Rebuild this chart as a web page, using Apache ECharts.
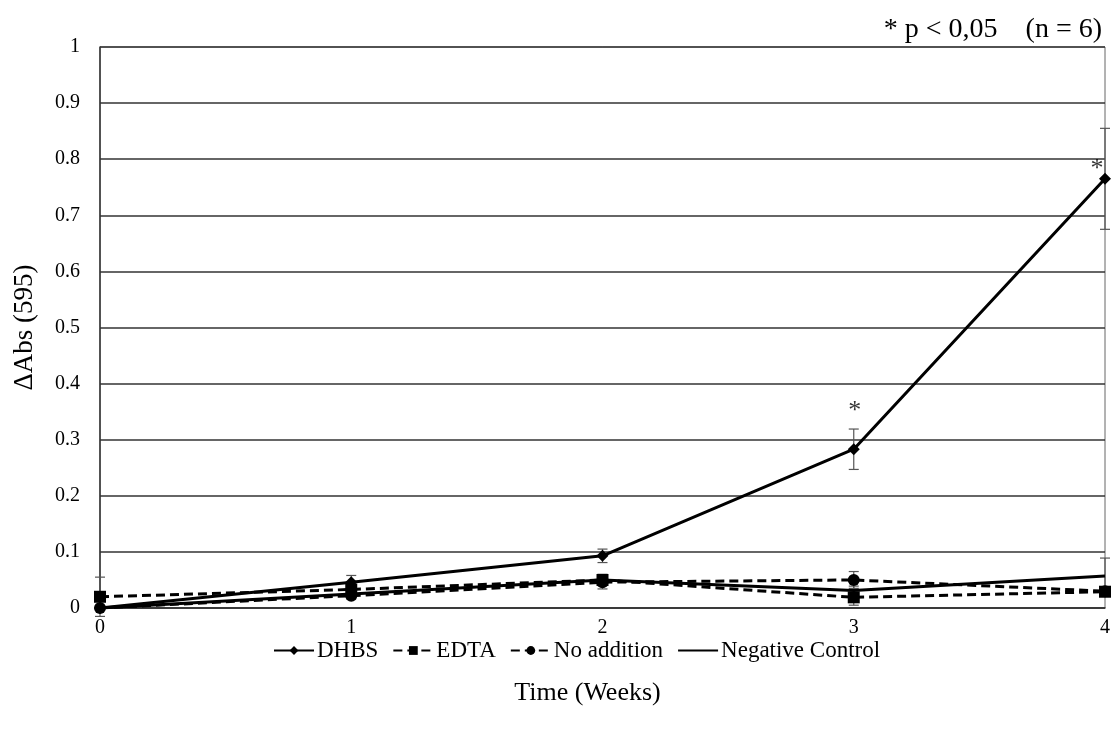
<!DOCTYPE html>
<html>
<head>
<meta charset="utf-8">
<script src="https://cdn.jsdelivr.net/npm/echarts@6/dist/echarts.min.js"></script>
<style>
  html, body { margin: 0; padding: 0; background: #fff; }
  #chart { width: 1115px; height: 736px; }
</style>
</head>
<body>
<div id="chart"></div>
<script>
// weeks on the x axis
const weeks = [0, 1, 2, 3, 4];

// mean values
const dhbs = [0, 0.046, 0.093, 0.283, 0.765];
const edta = [0.02, 0.033, 0.05, 0.019, 0.029];
const noAddition = [0, 0.022, 0.046, 0.05, 0.03];
const negControl = [0, 0.025, 0.05, 0.031, 0.057];

// error bar half-widths
const dhbsErr = [0, 0.012, 0.012, 0.036, 0.09];
const edtaErr = [0.035, 0.006, 0.008, 0.014, 0.004];
const noAddErr = [0.004, 0.006, 0.012, 0.015, 0.004];
const negErr = [0.003, 0.006, 0.01, 0.008, 0.032];

// points marked significant
const starred = [[3, 0.283], [4, 0.765]];

const yTicks = [0, 0.1, 0.2, 0.3, 0.4, 0.5, 0.6, 0.7, 0.8, 0.9, 1];

const font = "'Liberation Serif', 'Times New Roman', serif";

function pairs(vals) {
  return weeks.map((w, i) => [w, vals[i]]);
}

function errData(vals, errs) {
  return weeks.map((w, i) => [w, vals[i] - errs[i], vals[i] + errs[i]]);
}

function errorSeries(vals, errs) {
  return {
    type: "custom",
    silent: true,
    z: 1,
    data: errData(vals, errs),
    renderItem: function (params, api) {
      const x = api.value(0);
      const lo = api.coord([x, api.value(1)]);
      const hi = api.coord([x, api.value(2)]);
      const cap = 5;
      const style = { stroke: "#555", lineWidth: 1.2 };
      return {
        type: "group",
        children: [
          { type: "line", shape: { x1: lo[0], y1: lo[1], x2: hi[0], y2: hi[1] }, style: style },
          { type: "line", shape: { x1: lo[0] - cap, y1: lo[1], x2: lo[0] + cap, y2: lo[1] }, style: style },
          { type: "line", shape: { x1: hi[0] - cap, y1: hi[1], x2: hi[0] + cap, y2: hi[1] }, style: style },
        ],
      };
    },
  };
}

function lineSeries(name, vals, symbol, dashed, size) {
  return {
    name: name,
    type: "line",
    data: pairs(vals),
    symbol: symbol,
    symbolSize: size,
    z: 3,
    lineStyle: { color: "#000", width: 3, type: dashed ? [9, 5] : "solid" },
    itemStyle: { color: "#000" },
  };
}

const chart = echarts.init(document.getElementById("chart"));

chart.setOption({
  animation: false,
  textStyle: { fontFamily: font, color: "#000" },
  title: {
    text: "* p < 0,05    (n = 6)",
    right: 8,
    top: 11,
    textStyle: { fontFamily: font, fontSize: 28, fontWeight: "normal", color: "#000" },
  },
  legend: {
    bottom: 69,
    left: 268,
    itemWidth: 40,
    itemHeight: 11,
    itemGap: 14,
    textStyle: { fontFamily: font, fontSize: 23, color: "#000", padding: [0, 0, 0, -2] },
    data: [
      "DHBS",
      "EDTA",
      "No addition",
      { name: "Negative Control", itemStyle: { opacity: 0 } },
    ],
  },
  grid: {
    left: 100,
    right: 10,
    top: 47,
    bottom: 128,
    show: true,
    borderColor: "#666",
    borderWidth: 1,
    outerBoundsMode: "none",
  },
  xAxis: {
    type: "value",
    min: 0,
    max: 4,
    interval: 1,
    name: "Time (Weeks)",
    nameLocation: "middle",
    nameGap: 72,
    nameTextStyle: { fontFamily: font, fontSize: 26, color: "#000", padding: [0, 30, 0, 0] },
    axisLine: { lineStyle: { color: "#333", width: 1.5 } },
    axisTick: { show: false },
    splitLine: { show: false },
    axisLabel: { fontFamily: font, fontSize: 20, color: "#000", margin: 10 },
  },
  yAxis: {
    type: "value",
    min: 0,
    max: 1,
    interval: 0.1,
    name: "\u0394Abs (595)",
    nameLocation: "middle",
    nameGap: 62,
    nameTextStyle: { fontFamily: font, fontSize: 27, color: "#000" },
    axisLine: { show: true, lineStyle: { color: "#333", width: 1.5 } },
    axisTick: { show: false },
    splitLine: { lineStyle: { color: "#333", width: 1.5 } },
    axisLabel: {
      fontFamily: font,
      fontSize: 20,
      color: "#000",
      margin: 20,
      formatter: function (v) {
        const t = yTicks.find((k) => Math.abs(k - v) < 1e-9);
        return t === undefined ? "" : String(t);
      },
    },
  },
  series: [
    errorSeries(dhbs, dhbsErr),
    errorSeries(edta, edtaErr),
    errorSeries(noAddition, noAddErr),
    errorSeries(negControl, negErr),
    lineSeries("DHBS", dhbs, "diamond", false, 12),
    lineSeries("EDTA", edta, "rect", true, 12),
    lineSeries("No addition", noAddition, "circle", true, 12),
    lineSeries("Negative Control", negControl, "none", false, 0),
    {
      type: "scatter",
      silent: true,
      symbolSize: 0,
      z: 4,
      data: [
        { value: starred[0], label: { offset: [1, -20] } },
        { value: starred[1], label: { offset: [-8, 8] } },
      ],
      label: {
        show: true,
        position: "top",
        formatter: "*",
        fontFamily: font,
        fontSize: 26,
        color: "#000",
      },
    },
  ],
});
</script>
</body>
</html>
